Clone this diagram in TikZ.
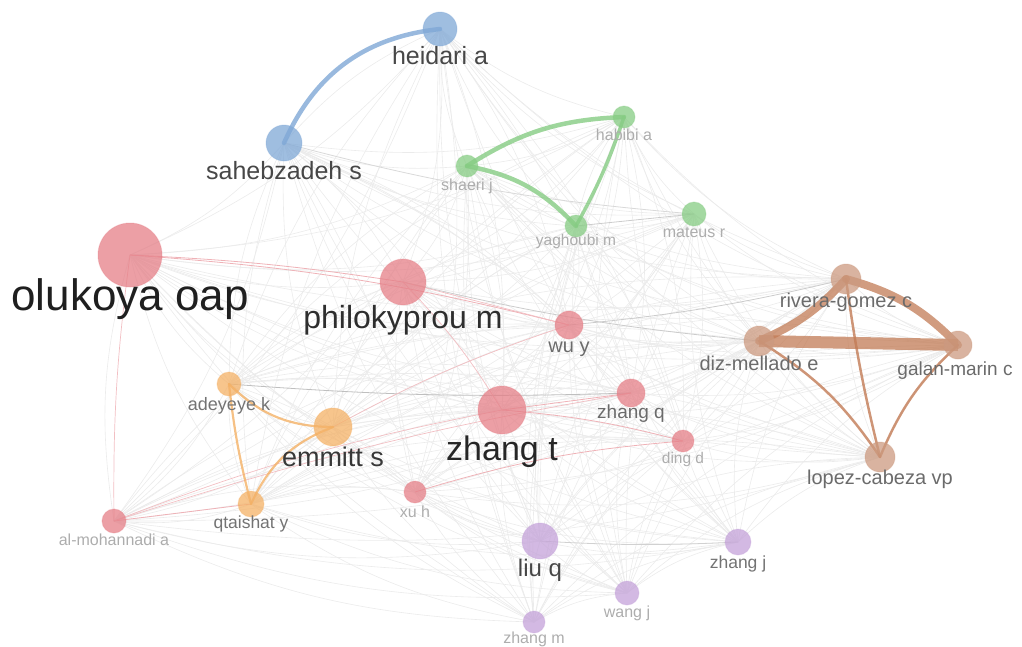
\documentclass[tikz,border=0pt]{standalone}
\usepackage{fontspec}
\setmainfont{Liberation Sans}
\usetikzlibrary{backgrounds}

\definecolor{cred}{HTML}{E57F87}
\definecolor{cblue}{HTML}{7FA8D6}
\definecolor{cgreen}{HTML}{86CC83}
\definecolor{corange}{HTML}{F4B166}
\definecolor{cbrown}{HTML}{CC9A80}
\definecolor{cpurple}{HTML}{C4A2D9}
\definecolor{tbrown}{HTML}{C27B55}

\tikzset{
	member/.style={circle, inner sep=0pt, fill opacity=0.75, draw opacity=0.3, line width=1pt},
	authorlbl/.style={anchor=base, inner sep=0pt},
	web/.style={black!8, line width=0.6pt},
	tie/.style={line cap=round, draw opacity=0.8},
}
\newcommand\Fs[1]{\fontsize{#1}{#1}\selectfont}

\begin{document}
\begin{tikzpicture}[x=1pt,y=-1pt]
	\useasboundingbox (0,0) rectangle (1022,646);
	
	% red cluster
	\node[member, minimum size=64, fill=cred, draw=cred] (olukoya) at (130,255) {};
	\node[member, minimum size=46, fill=cred, draw=cred] (philokyprou) at (403,282) {};
	\node[member, minimum size=48, fill=cred, draw=cred] (zhangt) at (502,410) {};
	\node[member, minimum size=28, fill=cred, draw=cred] (wuy) at (569,325) {};
	\node[member, minimum size=28, fill=cred, draw=cred] (zhangq) at (631,393) {};
	\node[member, minimum size=22, fill=cred, draw=cred] (dingd) at (683,441) {};
	\node[member, minimum size=22, fill=cred, draw=cred] (xuh) at (415,492) {};
	\node[member, minimum size=24, fill=cred, draw=cred] (almohannadi) at (114,521) {};
	% blue cluster
	\node[member, minimum size=34, fill=cblue, draw=cblue] (heidari) at (440,29) {};
	\node[member, minimum size=36, fill=cblue, draw=cblue] (sahebzadeh) at (284,143) {};
	% green cluster
	\node[member, minimum size=22, fill=cgreen, draw=cgreen] (shaeri) at (467,166) {};
	\node[member, minimum size=22, fill=cgreen, draw=cgreen] (habibi) at (624,117) {};
	\node[member, minimum size=22, fill=cgreen, draw=cgreen] (yaghoubi) at (576,226) {};
	\node[member, minimum size=24, fill=cgreen, draw=cgreen] (mateus) at (694,214) {};
	% brown cluster
	\node[member, minimum size=30, fill=cbrown, draw=cbrown] (rivera) at (846,279) {};
	\node[member, minimum size=30, fill=cbrown, draw=cbrown] (diz) at (759,341) {};
	\node[member, minimum size=28, fill=cbrown, draw=cbrown] (galan) at (958,345) {};
	\node[member, minimum size=30, fill=cbrown, draw=cbrown] (lopez) at (880,457) {};
	% orange cluster
	\node[member, minimum size=24, fill=corange, draw=corange] (adeyeye) at (229,384) {};
	\node[member, minimum size=38, fill=corange, draw=corange] (emmitt) at (333,427) {};
	\node[member, minimum size=26, fill=corange, draw=corange] (qtaishat) at (251,504) {};
	% purple cluster
	\node[member, minimum size=36, fill=cpurple, draw=cpurple] (liuq) at (540,541) {};
	\node[member, minimum size=26, fill=cpurple, draw=cpurple] (zhangj) at (738,542) {};
	\node[member, minimum size=24, fill=cpurple, draw=cpurple] (wangj) at (627,593) {};
	\node[member, minimum size=22, fill=cpurple, draw=cpurple] (zhangm) at (534,622) {};
	
	\begin{scope}[on background layer]
		% all the faint links
		\foreach \a [count=\i] in {olukoya,philokyprou,zhangt,wuy,zhangq,dingd,xuh,almohannadi,heidari,sahebzadeh,shaeri,habibi,yaghoubi,mateus,rivera,diz,galan,lopez,adeyeye,emmitt,qtaishat,liuq,zhangj,wangj,zhangm}
		\foreach \b [count=\j] in {olukoya,philokyprou,zhangt,wuy,zhangq,dingd,xuh,almohannadi,heidari,sahebzadeh,shaeri,habibi,yaghoubi,mateus,rivera,diz,galan,lopez,adeyeye,emmitt,qtaishat,liuq,zhangj,wangj,zhangm}
		{
			\ifnum\i<\j
			\draw[web] (\a.center) to[bend right=12] (\b.center);
			\fi
		}
		% stronger grey links
		\draw[black!25, line width=0.8pt] (adeyeye.center) to[bend right=3] (zhangq.center);
		\draw[black!20, line width=0.8pt] (diz.center) to[bend left=4] (philokyprou.center);
		\draw[black!20, line width=0.8pt] (rivera.center) to[bend left=4] (wuy.center);
		\draw[black!20, line width=0.8pt] (yaghoubi.center) -- (mateus.center);
		\draw[black!15, line width=0.8pt] (sahebzadeh.center) to[bend right=5] (mateus.center);
		\draw[black!18, line width=0.8pt] (liuq.center) to[bend right=3] (zhangj.center);
		
		% red links
		\draw[cred!60, line width=0.8pt] (olukoya.center) to[bend left=3] (philokyprou.center);
		\draw[cred!60, line width=0.8pt] (olukoya.center) to[bend left=5] (wuy.center);
		\draw[cred!50, line width=0.7pt] (almohannadi.center) to[bend left=4] (olukoya.center);
		\draw[cred!60, line width=0.8pt] (almohannadi.center) -- (qtaishat.center);
		\draw[cred!50, line width=0.7pt] (almohannadi.center) to[bend left=5] (zhangt.center);
		\draw[cred!50, line width=0.7pt] (almohannadi.center) to[bend left=4] (zhangq.center);
		\draw[cred!60, line width=0.8pt] (zhangt.center) -- (zhangq.center);
		\draw[cred!60, line width=0.8pt] (zhangt.center) to[bend left=5] (dingd.center);
		\draw[cred!60, line width=0.8pt] (xuh.center) to[bend left=6] (dingd.center);
		\draw[cred!50, line width=0.7pt] (philokyprou.center) to[bend left=6] (zhangt.center);
		\draw[cred!50, line width=0.7pt] (philokyprou.center) -- (wuy.center);
		\draw[cred!50, line width=0.7pt] (emmitt.center) to[bend left=5] (wuy.center);
		
		% blue link
		\draw[tie, cblue, line width=4.5pt] (sahebzadeh.center) to[bend left=30] (heidari.center);
		% green links
		\draw[tie, cgreen, line width=4.5pt] (shaeri.center) to[bend left=15] (habibi.center);
		\draw[tie, cgreen, line width=4.5pt] (shaeri.center) to[bend left=18] (yaghoubi.center);
		\draw[tie, cgreen, line width=3.5pt] (yaghoubi.center) to[bend right=5] (habibi.center);
		% brown links
		\draw[tie, tbrown, line width=12pt, line cap=butt, draw opacity=0.75] (diz.center) -- (galan.center);
		\draw[tie, tbrown, line width=8pt, draw opacity=0.75] (diz.center) to[bend right=12] (rivera.center);
		\draw[tie, tbrown, line width=8pt, draw opacity=0.75] (rivera.center) to[bend left=15] (galan.center);
		\draw[tie, tbrown, line width=2.5pt] (diz.center) to[bend left=12] (lopez.center);
		\draw[tie, tbrown, line width=2.5pt] (rivera.center) to[bend right=3] (lopez.center);
		\draw[tie, tbrown, line width=2.5pt] (lopez.center) to[bend left=12] (galan.center);
		% orange links
		\draw[tie, corange, line width=2.2pt] (adeyeye.center) to[bend right=22] (emmitt.center);
		\draw[tie, corange, line width=2.2pt] (adeyeye.center) to[bend right=4] (qtaishat.center);
		\draw[tie, corange, line width=2.2pt] (qtaishat.center) to[bend left=22] (emmitt.center);
	\end{scope}
	
	% labels
	\node[authorlbl, font=\Fs{44}, text=black!88] at (130,310) {olukoya oap};
	\node[authorlbl, font=\Fs{32}, text=black!82] at (403,328) {philokyprou m};
	\node[authorlbl, font=\Fs{34}, text=black!85] at (502,460) {zhang t};
	\node[authorlbl, font=\Fs{27}, text=black!78] at (333,466) {emmitt s};
	\node[authorlbl, font=\Fs{25}, text=black!72] at (440,64) {heidari a};
	\node[authorlbl, font=\Fs{25}, text=black!72] at (284,179) {sahebzadeh s};
	\node[authorlbl, font=\Fs{24}, text=black!72] at (540,576) {liu q};
	\node[authorlbl, font=\Fs{20}, text=black!58] at (569,352) {wu y};
	\node[authorlbl, font=\Fs{19}, text=black!58] at (631,418) {zhang q};
	\node[authorlbl, font=\Fs{20}, text=black!58] at (846,307) {rivera-gomez c};
	\node[authorlbl, font=\Fs{20}, text=black!58] at (759,370) {diz-mellado e};
	\node[authorlbl, font=\Fs{19}, text=black!58] at (955,375) {galan-marin c};
	\node[authorlbl, font=\Fs{20}, text=black!58] at (880,484) {lopez-cabeza vp};
	\node[authorlbl, font=\Fs{18}, text=black!55] at (229,410) {adeyeye k};
	\node[authorlbl, font=\Fs{17.5}, text=black!55] at (251,528) {qtaishat y};
	\node[authorlbl, font=\Fs{17.5}, text=black!55] at (738,568) {zhang j};
	\node[authorlbl, font=\Fs{16}, text=black!32] at (114,545) {al-mohannadi a};
	\node[authorlbl, font=\Fs{16}, text=black!32] at (415,517) {xu h};
	\node[authorlbl, font=\Fs{15.5}, text=black!32] at (683,463) {ding d};
	\node[authorlbl, font=\Fs{16}, text=black!32] at (627,617) {wang j};
	\node[authorlbl, font=\Fs{16}, text=black!32] at (534,643) {zhang m};
	\node[authorlbl, font=\Fs{16}, text=black!32] at (467,190) {shaeri j};
	\node[authorlbl, font=\Fs{16}, text=black!32] at (624,140) {habibi a};
	\node[authorlbl, font=\Fs{15.5}, text=black!32] at (576,245) {yaghoubi m};
	\node[authorlbl, font=\Fs{16}, text=black!32] at (694,237) {mateus r};
\end{tikzpicture}
\end{document}
